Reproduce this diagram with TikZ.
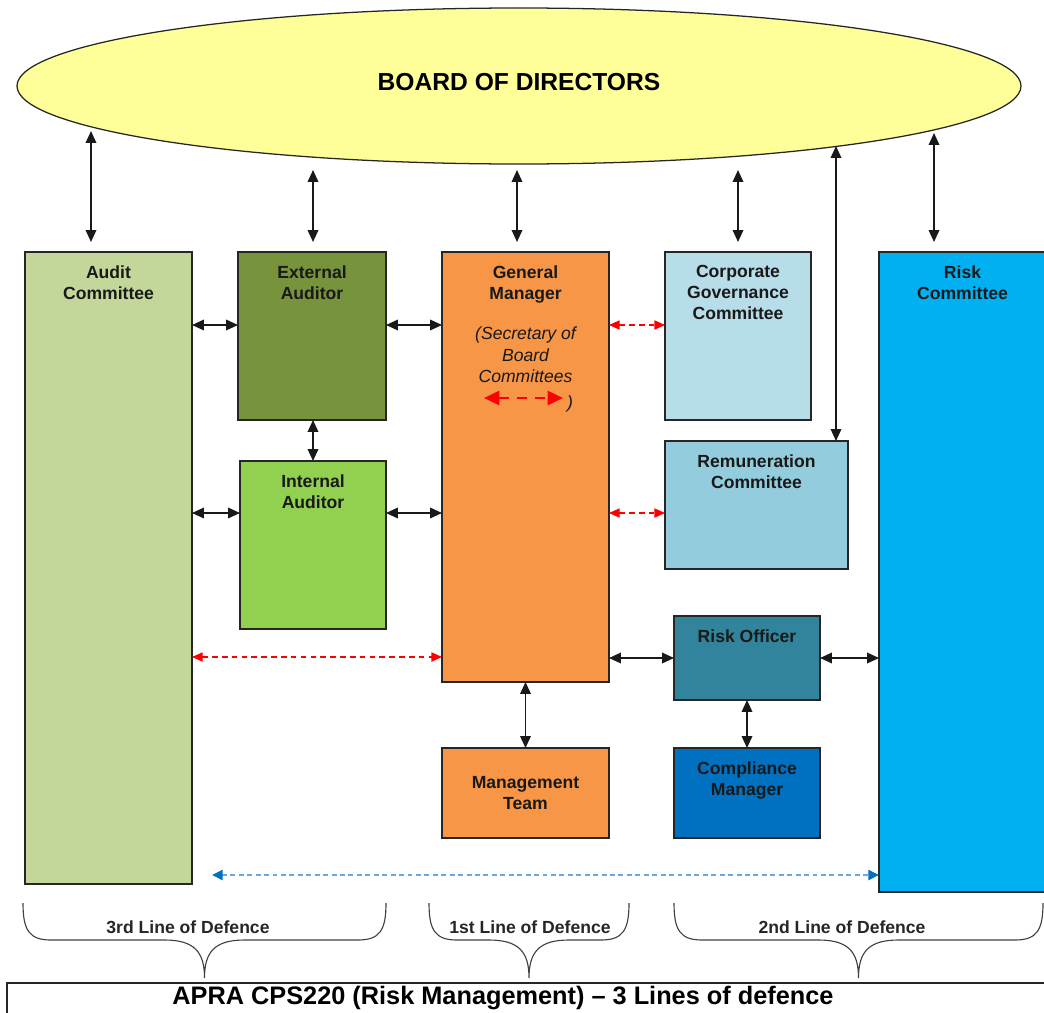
\documentclass[tikz,border=0pt]{standalone}
\usepackage{fontspec}
\setmainfont{Liberation Sans}
\usetikzlibrary{shapes.geometric, arrows.meta, positioning, calc}

\definecolor{boardyellow}{HTML}{FFFF99}
\definecolor{auditgreen}{HTML}{C4D79B}
\definecolor{extgreen}{HTML}{77933C}
\definecolor{intgreen}{HTML}{92D050}
\definecolor{gmorange}{HTML}{F79646}
\definecolor{cgblue}{HTML}{B7DDE8}
\definecolor{remblue}{HTML}{93CDDD}
\definecolor{roteal}{HTML}{31849B}
\definecolor{cmblue}{HTML}{0070C0}
\definecolor{rcblue}{HTML}{00B0F0}
\definecolor{dotblue}{HTML}{6FA8DC}

\tikzset{
  box/.style={draw=black!85, line width=0.9pt, inner sep=0pt, outer sep=0pt, anchor=north west},
  sz/.style 2 args={minimum width=#1*0.025cm, minimum height=#2*0.025cm},
  lbl/.style={font=\fontsize{12.5}{15}\selectfont\bfseries, align=center, inner sep=0pt, text=black!90},
  note/.style={font=\fontsize{12.5}{15.3}\selectfont\itshape, align=center, inner sep=0pt, text=black!90},
  lod/.style={font=\fontsize{12.5}{15}\selectfont\bfseries, inner sep=0pt, text=black!85},
  arr/.style={<->, >={Triangle[length=8.5pt,width=7.5pt]}, line width=1.2pt, draw=black!90},
  redarr/.style={<->, >={Triangle[length=7.5pt,width=6.5pt]}, line width=0.9pt, red, dash pattern=on 4pt off 3pt},
  secarr/.style={<->, >={Triangle[length=11pt,width=10pt]}, line width=2pt, red, dash pattern=on 7pt off 6pt},
  bluearr/.style={<->, >={Triangle[length=7.5pt,width=7pt,color=cmblue]}, line width=1.8pt, dotblue, dash pattern=on 3.5pt off 2.5pt},
  brc/.style={draw=black!75, line width=0.8pt}
}

% brace from x=#1 to x=#2, tip in the middle
\newcommand{\lodbrace}[2]{%
  \draw[brc] (#1,903) .. controls (#1,930) and ({#1+6},940) .. ({#1+28},940)
    -- ({(#1+#2)/2-40},940) .. controls ({(#1+#2)/2-10},940) and ({(#1+#2)/2},952) .. ({(#1+#2)/2},978)
    .. controls ({(#1+#2)/2},952) and ({(#1+#2)/2+10},940) .. ({(#1+#2)/2+40},940)
    -- ({#2-28},940) .. controls ({#2-6},940) and (#2,930) .. (#2,903);}

\begin{document}
\begin{tikzpicture}[x=0.025cm, y=-0.025cm]
\useasboundingbox (0,0) rectangle (1044,1012);

% Board
\node[ellipse, draw=black!85, line width=0.9pt, fill=boardyellow, sz={1004}{156}, inner sep=0pt] (board) at (519,86) {};
\node[font=\fontsize{17.5}{20}\selectfont\bfseries] (board-t) at (519,82) {BOARD OF DIRECTORS};

% Committees and officers
\node[box, fill=auditgreen, sz={167}{632}] (audit) at (25,252) {};
\node[box, fill=extgreen, sz={148}{168}] (ext) at (238,252) {};
\node[box, fill=intgreen, sz={146}{168}] (int) at (240,461) {};
\node[box, fill=gmorange, sz={167}{430}] (gm) at (442,252) {};
\node[box, fill=cgblue, sz={146}{168}] (cg) at (665,252) {};
\node[box, fill=remblue, sz={183}{128}] (rem) at (665,441) {};
\node[box, fill=roteal, sz={146}{84}] (ro) at (674,616) {};
\node[box, fill=cmblue, sz={146}{90}] (cm) at (674,748) {};
\node[box, fill=gmorange, sz={167}{90}] (mt) at (442,748) {};
\node[box, fill=rcblue, sz={167}{640}] (rc) at (879,252) {};

% Labels
\node[lbl, below=0.33cm of audit.north] (audit-t) {Audit\\Committee};
\node[lbl, below=0.33cm of ext.north] (ext-t) {External\\Auditor};
\node[lbl, below=0.33cm of int.north] (int-t) {Internal\\Auditor};
\node[lbl, below=0.33cm of gm.north] (gm-t) {General\\Manager};
\node[lbl, below=0.33cm of cg.north] (cg-t) {Corporate\\Governance\\Committee};
\node[lbl, below=0.33cm of rem.north] (rem-t) {Remuneration\\Committee};
\node[lbl, below=0.33cm of ro.north] (ro-t) {Risk Officer};
\node[lbl, below=0.33cm of cm.north] (cm-t) {Compliance\\Manager};
\node[lbl] (mt-t) at (mt.center) {Management\\Team};
\node[lbl, below=0.33cm of rc.north] (rc-t) {Risk\\Committee};

% Secretary note
\node[note, below=0.58cm of gm-t] (gm-s) {(Secretary of\\Board\\Committees};
\coordinate (sec-l) at (484,398);
\coordinate (sec-r) at (563,398);
\draw[secarr] (sec-l) -- (sec-r);
\node[note] (sec-p) at (570,404) {)};

% Board links
\coordinate (b-audit) at (91,131);
\coordinate (b-ext) at (313,170);
\coordinate (b-gm) at (517,170);
\coordinate (b-cg) at (738,170);
\coordinate (b-rem) at (836,146);
\coordinate (b-rc) at (934,133);
\draw[arr, shorten >=0.25cm] (b-audit) -- (audit.north -| b-audit);
\draw[arr, shorten >=0.25cm] (b-ext) -- (ext.north -| b-ext);
\draw[arr, shorten >=0.25cm] (b-gm) -- (gm.north -| b-gm);
\draw[arr, shorten >=0.25cm] (b-cg) -- (cg.north -| b-cg);
\draw[arr] (b-rem) -- (rem.north -| b-rem);
\draw[arr, shorten >=0.25cm] (b-rc) -- (rc.north -| b-rc);

% Links between boxes
\draw[arr] (audit.east |- 0,325) -- (ext.west |- 0,325);
\draw[arr] (ext.east |- 0,325) -- (gm.west |- 0,325);
\draw[arr] (ext.south -| int.north) -- (int.north);
\draw[arr] (audit.east |- 0,513) -- (int.west |- 0,513);
\draw[arr] (int.east |- 0,513) -- (gm.west |- 0,513);
\draw[arr] (gm.east |- ro.west) -- (ro.west);
\draw[arr] (ro.east) -- (rc.west |- ro.east);
\draw[arr] (ro.south) -- (cm.north);
\draw[arr] (gm.south) -- (mt.north);

\draw[redarr] (audit.east |- 0,657) -- (gm.west |- 0,657);
\draw[redarr] (gm.east |- 0,325) -- (cg.west |- 0,325);
\draw[redarr] (gm.east |- 0,513) -- (rem.west |- 0,513);

\draw[bluearr, shorten <=0.5cm] (audit.east |- 0,875) -- (rc.west |- 0,875);

% Lines of defence
\lodbrace{23}{386}
\lodbrace{429}{629}
\lodbrace{674}{1043}
\node[lod] (lod3) at (188,927) {3rd Line of Defence};
\node[lod] (lod1) at (530,927) {1st Line of Defence};
\node[lod] (lod2) at (842,927) {2nd Line of Defence};

% Footer
\node[box, sz={1045}{45}] (apra) at (7,983) {};
\node[font=\fontsize{18}{21}\selectfont\bfseries] (apra-t) at (503,998) {APRA CPS220 (Risk Management) – 3 Lines of defence};
\end{tikzpicture}
\end{document}
